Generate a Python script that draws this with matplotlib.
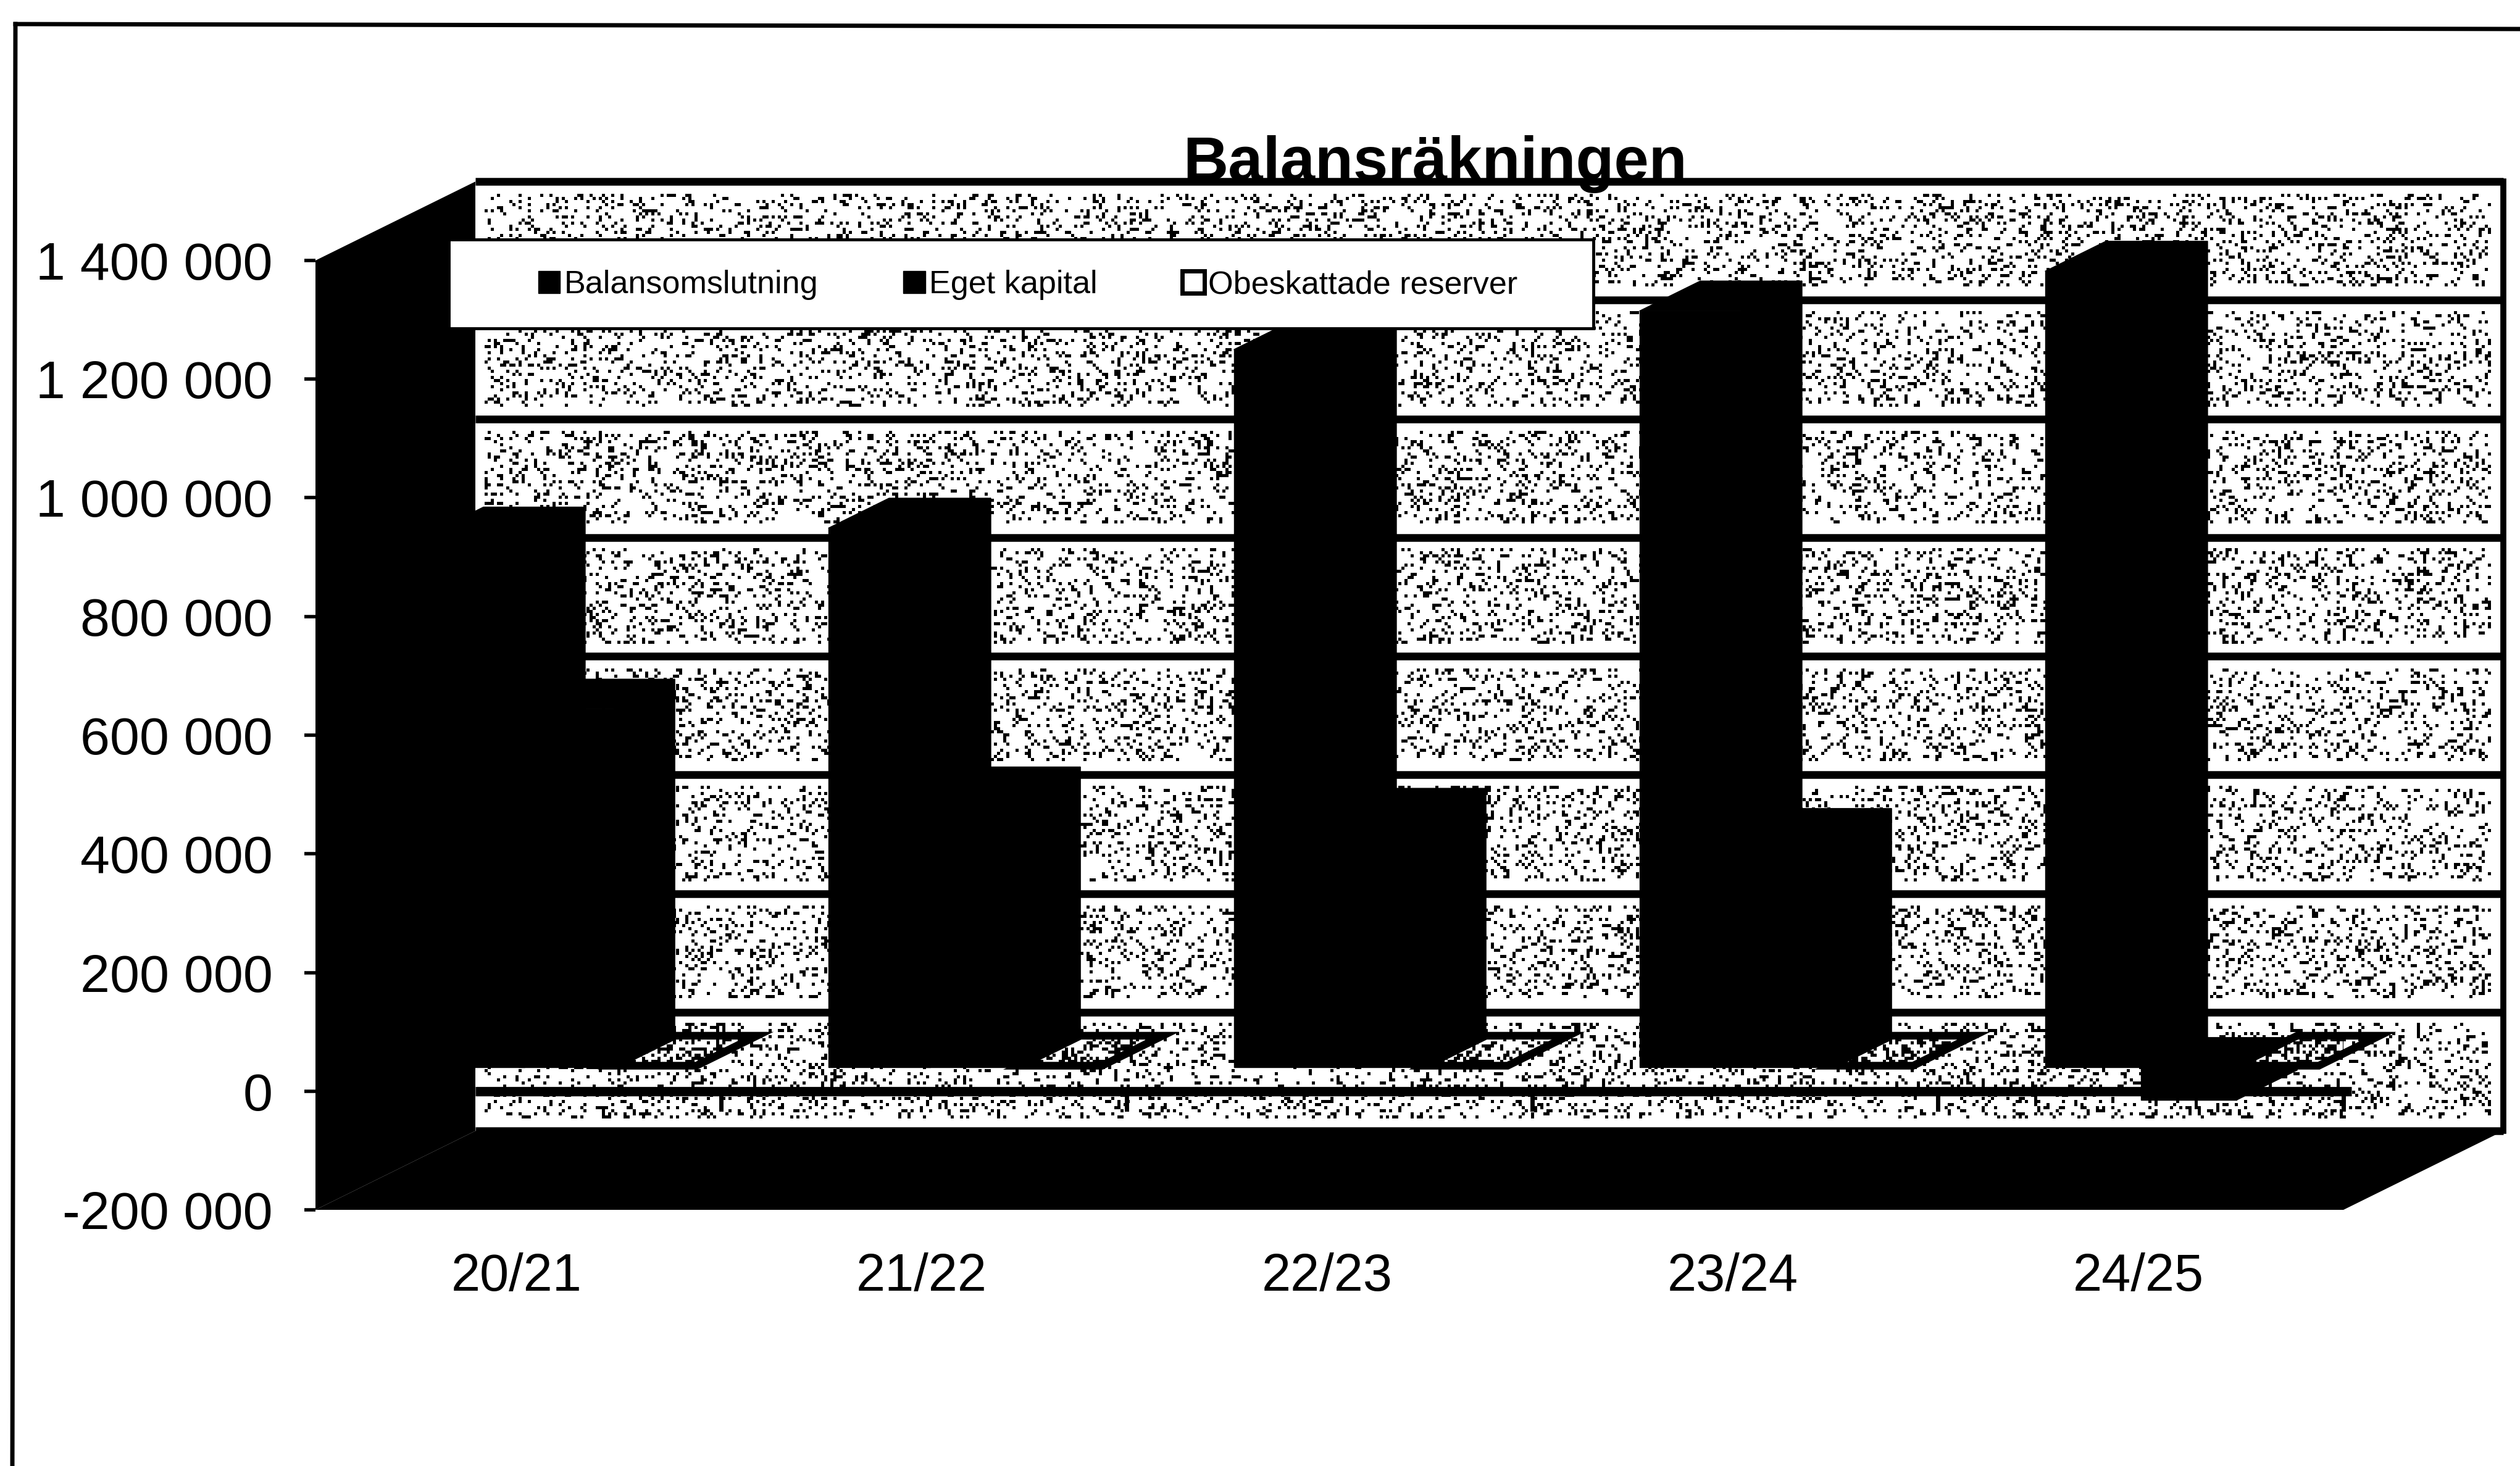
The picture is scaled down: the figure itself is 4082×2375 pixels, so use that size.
import matplotlib
matplotlib.use("Agg")
import matplotlib.pyplot as plt
import numpy as np
from matplotlib.lines import Line2D
from matplotlib.patches import Patch, Polygon, Rectangle

plt.rcParams['font.family'] = ['Liberation Sans', 'DejaVu Sans']

categories = ["20/21", "21/22", "22/23", "23/24", "24/25"]
balansomslutning = [894000, 909000, 1210000, 1275000, 1342000]
eget_kapital = [604000, 456000, 420000, 386000, -55000]
obeskattade = [3000, 3000, 3000, 3000, 3000]
series_names = ["Balansomslutning", "Eget kapital", "Obeskattade reserver"]
y_ticks = [-200000, 0, 200000, 400000, 600000, 800000, 1000000, 1200000, 1400000]

W, H = 4082, 2375
AX_W = 3285
# the 3D look: how far the back wall sits from the front plane, in axis units
DEPTH_X = 259 / 657
DEPTH_Y = 133000
D_FRONT, D_BACK = 0.30, 0.68
BAR_W = 155 / 657
GAP = (1 - 3 * BAR_W) / 2


def proj(x, y, d):
    return (x + d * DEPTH_X, y + d * DEPTH_Y)


def speckle(density, seed):
    # decoration only: the scanned marble fill of the chart wall
    rng = np.random.default_rng(seed)
    rows, cols = 308, 657
    tex = (rng.random((rows, cols)) < density).astype(float)
    for v in y_ticks:
        r = int((1400000 - v) / 1600000 * rows)
        tex[max(r - 4, 0):r + 4, :] = 0
    tex[:, :3] = 0
    tex[:, -4:] = 0
    return tex


fig = plt.figure(figsize=(W / 100, H / 100), dpi=100, facecolor="white")
ax = fig.add_axes([511 / W, (H - 1960) / H, AX_W / W, 1538 / H])
ax.patch.set_visible(False)
for s in ax.spines.values():
    s.set_visible(False)

tex = speckle(0.19, 7)
tex_top = speckle(0.4, 11)
wall_l, wall_b = proj(0, y_ticks[0], 1)
wall_r, wall_t = proj(5, y_ticks[-1], 1)
extent = (wall_l, wall_r, wall_b, wall_t)
ax.imshow(tex, extent=extent, aspect="auto", cmap="gray_r", vmin=0, vmax=1,
          interpolation="nearest", zorder=1, clip_on=False)

# gridlines on the back wall and its right border
for v in y_ticks:
    ax.plot([wall_l, wall_r], [v + DEPTH_Y, v + DEPTH_Y], color="black", lw=9,
            solid_capstyle="butt", zorder=2, clip_on=False)
ax.plot([wall_r, wall_r], [wall_b, wall_t], color="black", lw=7, zorder=2, clip_on=False)

# left wall and the black floor
ax.fill(*zip(proj(0, y_ticks[0], 0), proj(0, y_ticks[-1], 0), proj(0, y_ticks[-1], 1), proj(0, y_ticks[0], 1)),
        color="black", lw=0, zorder=3, clip_on=False)
ax.fill(*zip(proj(0, y_ticks[0], 0), proj(5, y_ticks[0], 0), proj(5, y_ticks[0], 1), proj(0, y_ticks[0], 1)),
        color="black", lw=0, zorder=3, clip_on=False)

# front edge of the zero floor with its category ticks
ax.plot([wall_l, 5.02], [0, 0], color="black", lw=11, solid_capstyle="butt", zorder=3, clip_on=False)
for i in range(1, 6):
    ax.plot([i, i], [0, -30000], color="black", lw=5, zorder=3, clip_on=False)


def draw_box(x, value, width, z):
    x2 = x + width
    lo, hi = min(0, value), max(0, value)
    front = [proj(x, lo, D_FRONT), proj(x2, lo, D_FRONT), proj(x2, hi, D_FRONT), proj(x, hi, D_FRONT)]
    top = [proj(x, hi, D_FRONT), proj(x2, hi, D_FRONT), proj(x2, hi, D_BACK), proj(x, hi, D_BACK)]
    side = [proj(x2, lo, D_FRONT), proj(x2, lo, D_BACK), proj(x2, hi, D_BACK), proj(x2, hi, D_FRONT)]
    for face in (front, top, side):
        ax.add_patch(Polygon(face, facecolor="black", edgecolor="black", lw=1, zorder=z, clip_on=False))


for i in range(len(categories)):
    x0 = i + GAP
    draw_box(x0, balansomslutning[i], BAR_W + 0.015, 5)
    draw_box(x0 + BAR_W, eget_kapital[i], BAR_W, 5)
    # third series is almost nothing: only its marbled top shows
    x3 = x0 + 2 * BAR_W
    x4 = x3 + BAR_W * 0.86
    v = obeskattade[i]
    top = [proj(x3, v, D_FRONT), proj(x4, v, D_FRONT), proj(x4, v, D_BACK), proj(x3, v, D_BACK)]
    im = ax.imshow(tex_top, extent=extent, aspect="auto", cmap="gray_r", vmin=0, vmax=1,
                   interpolation="nearest", zorder=6)
    im.set_clip_path(Polygon(top, transform=ax.transData))
    ax.add_patch(Polygon(top, facecolor="none", edgecolor="black", lw=9, joinstyle="miter", zorder=7, clip_on=False))

ax.set_xlim(0, 5)
ax.set_ylim(y_ticks[0], y_ticks[-1])
ax.set_xticks(np.arange(5) + 0.495, categories)
ax.set_yticks(y_ticks, [f"{v:,}".replace(",", " ") for v in y_ticks])
ax.tick_params(axis="x", length=0, labelsize=61, pad=50)
ax.tick_params(axis="y", length=13, width=4, labelsize=62, pad=37, color="black")

# legend box is wider than its entries, so the frame is drawn on its own
ax.add_patch(Rectangle(((727 - 511) / AX_W, (1960 - 532) / 1538), 1854 / AX_W, 144 / 1538,
                       transform=ax.transAxes, facecolor="white", edgecolor="black", lw=3.5,
                       zorder=8, clip_on=False))
handles = [Patch(facecolor="black", edgecolor="black"),
           Patch(facecolor="black", edgecolor="black"),
           Patch(facecolor="white", edgecolor="black", lw=5)]
leg = ax.legend(handles, series_names, ncol=3, loc="center",
                bbox_to_anchor=((1665 - 511) / AX_W, (1960 - 462) / 1538),
                fontsize=37.5, frameon=False, borderpad=0, borderaxespad=0,
                handlelength=0.68, handleheight=0.68, handletextpad=0.12, columnspacing=2.65)
leg.set_zorder(9)

fig.text(2325 / W, 1 - 292 / H, "Balansräkningen", fontsize=73, fontweight="bold",
         ha="center", va="baseline", zorder=10)

# frame left by the scanned page
fig.add_artist(Line2D([25 / W, 1], [1 - 39 / H, 1 - 47 / H], color="black", lw=5))
fig.add_artist(Line2D([25 / W, 20 / W], [1 - 39 / H, 0], color="black", lw=5))

fig.savefig("out.png", dpi=100)
